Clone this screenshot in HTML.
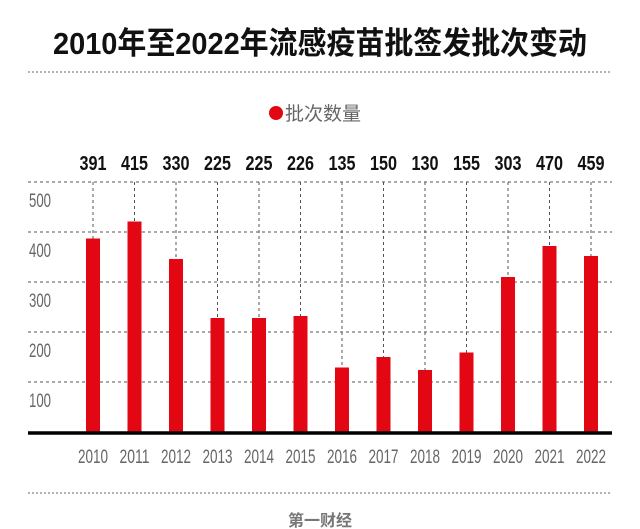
<!DOCTYPE html>
<html><head><meta charset="utf-8"><style>
body{margin:0;background:#fff;width:640px;height:529px;overflow:hidden}
svg{display:block}
</style></head><body>
<svg id="chart" width="640" height="529">
<text x="320" y="54" text-anchor="middle" textLength="534" lengthAdjust="spacingAndGlyphs" font-family="'Liberation Sans','Noto Sans CJK SC',sans-serif" font-weight="bold" font-size="31" fill="#111">2010年至2022年流感疫苗批签发批次变动</text>
<line x1="28" y1="72" x2="612" y2="72" stroke="#999" stroke-width="1.5" stroke-dasharray="2,2"/>
<g>
<circle cx="276" cy="113" r="7" fill="#e30613"/>
<text x="285" y="120" font-family="'Liberation Sans','Noto Sans CJK SC',sans-serif" font-size="19" fill="#666">批次数量</text>
</g>
<g id="grid"></g><g id="bars"></g><g id="labels"></g>
<line x1="28" y1="433" x2="612" y2="433" stroke="#000" stroke-width="3.5"/>
<line x1="28" y1="493" x2="612" y2="493" stroke="#999" stroke-width="1.5" stroke-dasharray="2,2"/>
<text x="320" y="526" text-anchor="middle" font-family="'Liberation Sans','Noto Sans CJK SC',sans-serif" font-weight="bold" font-size="16" fill="#777">第一财经</text>
</svg>
<script>
const categories=["2010","2011","2012","2013","2014","2015","2016","2017","2018","2019","2020","2021","2022"];
const printedValues=[391,415,330,225,225,226,135,150,130,155,303,470,459];
const barValues=[387,421,346,228,228,232,129,150,124,159,310,372,352];
const yTicks=[100,200,300,400,500];
const NS="http://www.w3.org/2000/svg";
const y=v=>432-v*0.5;
const x=i=>93+i*41.5;
const F="'Liberation Sans',sans-serif";
function mk(tag,attrs,parent){const e=document.createElementNS(NS,tag);for(const k in attrs)e.setAttribute(k,attrs[k]);document.getElementById(parent).appendChild(e);return e;}
yTicks.forEach(t=>{
 const l=mk('line',{x1:28,x2:612,y1:y(t),y2:y(t),stroke:'#555','stroke-width':1,'stroke-dasharray':'3,3'},'grid');
 
 
 const tx=mk('text',{x:29,y:y(t)+25,'font-family':F,'font-size':19,fill:'#666',textLength:22,lengthAdjust:'spacingAndGlyphs'},'grid');
 tx.textContent=t;
 
 
});
categories.forEach((c,i)=>{
 const v=mk('line',{x1:x(i),x2:x(i),y1:y(500),y2:y(barValues[i]),stroke:'#555','stroke-width':1,'stroke-dasharray':'3,3'},'grid');
 
 
 const b=mk('rect',{x:x(i)-7,y:y(barValues[i]),width:14,height:432-y(barValues[i]),fill:'#e30613'},'bars');
 
 
 const vl=mk('text',{x:x(i),y:170,'text-anchor':'middle','font-family':F,'font-weight':'bold','font-size':20,fill:'#111',textLength:27,lengthAdjust:'spacingAndGlyphs'},'labels');
 vl.textContent=printedValues[i];
 
 
 const xl=mk('text',{x:x(i),y:463,'text-anchor':'middle','font-family':F,'font-size':19,fill:'#666',textLength:30,lengthAdjust:'spacingAndGlyphs'},'labels');
 xl.textContent=c;
 
 
});
</script>
</body></html>
